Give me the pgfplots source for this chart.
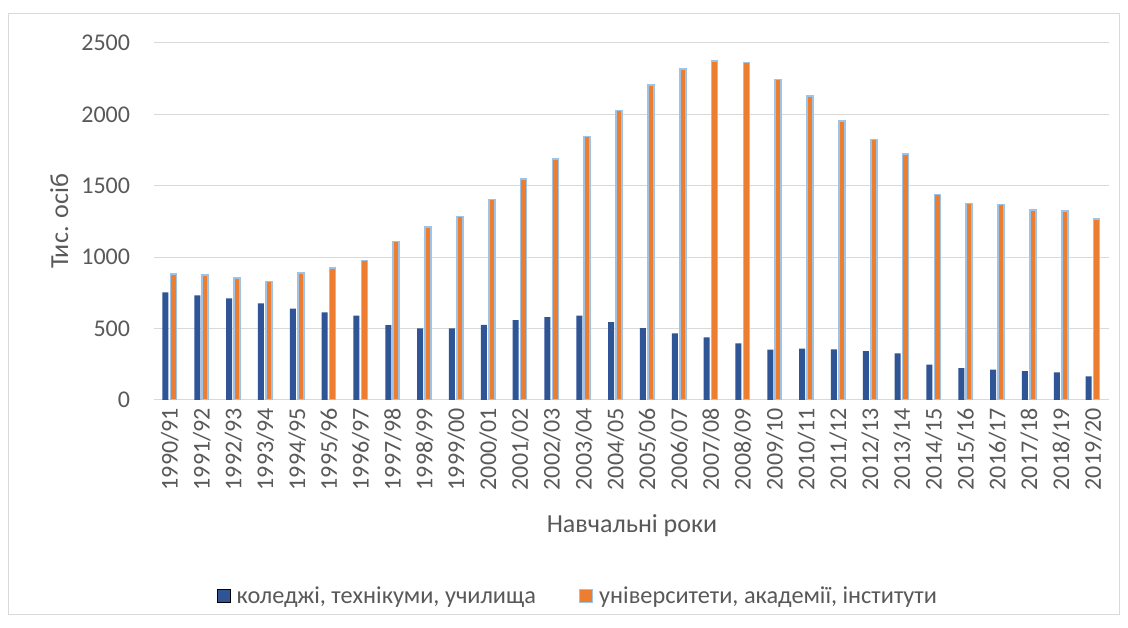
\documentclass[border=0pt]{standalone}
\usepackage{fontspec}
\setmainfont{Carlito}
\usepackage{pgfplots}
\pgfplotsset{compat=1.18}
\definecolor{blueS}{HTML}{2F5597}
\definecolor{orangeS}{HTML}{ED7D31}
\definecolor{edgeS}{HTML}{9DC3E6}
\definecolor{txt}{HTML}{595959}
\definecolor{gridc}{HTML}{D9D9D9}
\begin{document}
\begin{tikzpicture}[x=1pt,y=1pt]
\fill[white] (0,0) rectangle (1128,628);
\draw[gridc, line width=1pt] (8.5,13.5) rectangle (1119.5,614.5);
\begin{axis}[
  at={(154pt,228pt)}, anchor=south west,
  scale only axis, width=955pt, height=357pt,
  xmin=-0.5, xmax=29.5, ymin=0, ymax=2500,
  ytick={0,500,1000,1500,2000,2500},
  yticklabels={0,500,1000,1500,2000,2500},
  xtick={0,...,29},
  xticklabels={1990/91,1991/92,1992/93,1993/94,1994/95,1995/96,1996/97,1997/98,1998/99,1999/00,2000/01,2001/02,2002/03,2003/04,2004/05,2005/06,2006/07,2007/08,2008/09,2009/10,2010/11,2011/12,2012/13,2013/14,2014/15,2015/16,2016/17,2017/18,2018/19,2019/20},
  axis line style={draw=none},
  major tick length=0pt,
  ymajorgrids, grid style={gridc, line width=1pt},
  tick label style={font=\fontsize{24}{28}\selectfont, text=txt},
  yticklabel style={anchor=east, inner sep=0pt, outer xsep=24pt, outer ysep=0pt},
  xticklabel style={rotate=90, anchor=east, inner sep=0pt, outer xsep=8pt, outer ysep=0pt},
  legend columns=2,
  legend style={at={(axis description cs:0.066,-0.549)}, anchor=west, draw=none, fill=none, inner sep=0pt,
    font=\fontsize{24.3}{28}\selectfont, text=txt},
  legend cell align=left,
  legend image code/.code={\draw[#1, /tikz/.cd] (0pt,-6.5pt) rectangle (13pt,6.5pt);},
]
\addplot[ybar, bar width=6pt, bar shift=-4.5pt, fill=blueS, draw=none] coordinates {
(0,754) (1,733) (2,712) (3,677) (4,640) (5,614) (6,591) (7,524) (8,502) (9,502)
(10,526) (11,559) (12,580) (13,590) (14,546) (15,503) (16,466) (17,438) (18,397) (19,352)
(20,359) (21,354) (22,343) (23,326) (24,247) (25,224) (26,212) (27,203) (28,194) (29,166)};
\addlegendentry{\makebox[344pt][l]{\hspace{4pt}коледжі, технікуми, училища}}
\addplot[ybar, bar width=6pt, bar shift=3.5pt, fill=orangeS, draw=edgeS, line width=1.6pt] coordinates {
(0,881.3) (1,876.2) (2,855.9) (3,829.2) (4,888.5) (5,922.8) (6,976.9) (7,1110.2) (8,1210.3) (9,1285.4)
(10,1402.9) (11,1548.0) (12,1686.9) (13,1843.8) (14,2026.7) (15,2203.8) (16,2318.6) (17,2372.5) (18,2364.5) (19,2245.2)
(20,2129.8) (21,1954.8) (22,1824.9) (23,1723.7) (24,1438.0) (25,1375.2) (26,1369.4) (27,1330.0) (28,1322.2) (29,1266.1)};
\addlegendentry{\hspace{4pt}університети, академії, інститути}
\end{axis}
\node[anchor=base, font=\fontsize{26}{30}\selectfont, text=txt] at (632,95) {Навчальні роки};
\node[anchor=base, rotate=90, font=\fontsize{26}{30}\selectfont, text=txt] at (68,406.5) {Тис. осіб};
\end{tikzpicture}
\end{document}
